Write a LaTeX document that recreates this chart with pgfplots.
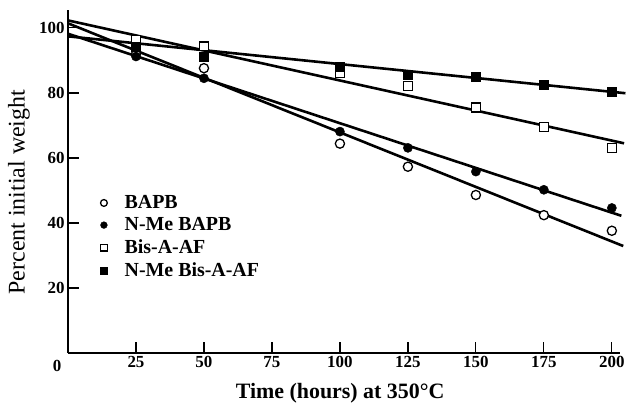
\documentclass[border=0pt]{standalone}
\usepackage{fontspec}
\setmainfont{Liberation Serif}
\usepackage{pgfplots}
\pgfplotsset{compat=1.18}

\begin{document}
\begin{tikzpicture}
\begin{axis}[
    scale only axis,
    width=552bp, height=343bp,
    xmin=0, xmax=203,
    ymin=0, ymax=105.5,
    axis lines*=left,
    axis line style={line width=2bp},
    xtick={25,50,...,200},
    ytick={20,40,...,100},
    tick align=inside,
    major tick length=11bp,
    tick style={line width=1.2bp, black},
    /pgf/number format/assume math mode=true,
    tick label style={font=\fontsize{17}{17}\selectfont\bfseries},
    xlabel={Time (hours) at 350°C},
    xlabel style={font=\fontsize{22}{22}\selectfont\bfseries, anchor=center, at={(axis description cs:0.493,-0.1166)}},
    ylabel={Percent initial weight},
    ylabel style={font=\fontsize{24}{24}\selectfont, anchor=center, rotate=0, at={(axis description cs:-0.0888,0.469)}},
    clip=false,
    legend cell align=left,
    legend style={draw=none, fill=none, at={(axis description cs:0.048,0.471)}, anchor=north west,
        font=\fontsize{20}{20}\selectfont\bfseries, row sep=3.5bp},
    legend image code/.code={
        \path[draw=none, fill=none] (0cm,0cm) -- (0.88cm,0cm);
        \draw[#1,mark size=3.4bp] plot coordinates {(0.22cm,0cm)};},
]

% fitted lines
\addplot[black, line width=2.6bp, forget plot] coordinates {(0,101.4) (204.2,32.9)};
\addplot[black, line width=2.6bp, forget plot] coordinates {(0,98.2) (203.5,42.2)};
\addplot[black, line width=2.6bp, forget plot] coordinates {(0,102.3) (204.5,64.5)};
\addplot[black, line width=2.6bp, forget plot] coordinates {(0,97.4) (205,79.9)};

% BAPB
\addplot[only marks, mark=*, mark size=4.6bp, mark options={fill=white, draw=black, line width=1.3bp}] coordinates {
    (25,92) (50,87.6) (100,64.4) (125,57.3) (150,48.6) (175,42.4) (200,37.6)
};
% N-Me BAPB
\addplot[only marks, mark=*, mark size=4.6bp, mark options={fill=black, draw=black}] coordinates {
    (25,91.2) (50,84.5) (100,68.1) (125,63.1) (150,55.8) (175,50.2) (200,44.6)
};
% Bis-A-AF
\addplot[only marks, mark=square*, mark size=4.4bp, mark options={fill=white, draw=black, line width=1.3bp}] coordinates {
    (25,96.3) (50,94.3) (100,86.1) (125,82.2) (150,75.5) (175,69.5) (200,63.1)
};
% N-Me Bis-A-AF
\addplot[only marks, mark=square*, mark size=4.4bp, mark options={fill=black, draw=black}] coordinates {
    (25,94.3) (50,91.2) (100,88.1) (125,85.5) (150,85.0) (175,82.5) (200,80.4)
};
\legend{BAPB, N-Me BAPB, Bis-A-AF, N-Me Bis-A-AF}

\node[font=\fontsize{17}{17}\selectfont\bfseries] at (axis cs:0,0) [xshift=-11bp, yshift=-13bp] {0};

\coordinate (bl) at (rel axis cs:0,0);
\coordinate (tr) at (rel axis cs:1,1);
\end{axis}
\pgfresetboundingbox
\path[use as bounding box] ([shift={(-68bp,-54bp)}]bl) rectangle ([shift={(9bp,10bp)}]tr);
\end{tikzpicture}
\end{document}
